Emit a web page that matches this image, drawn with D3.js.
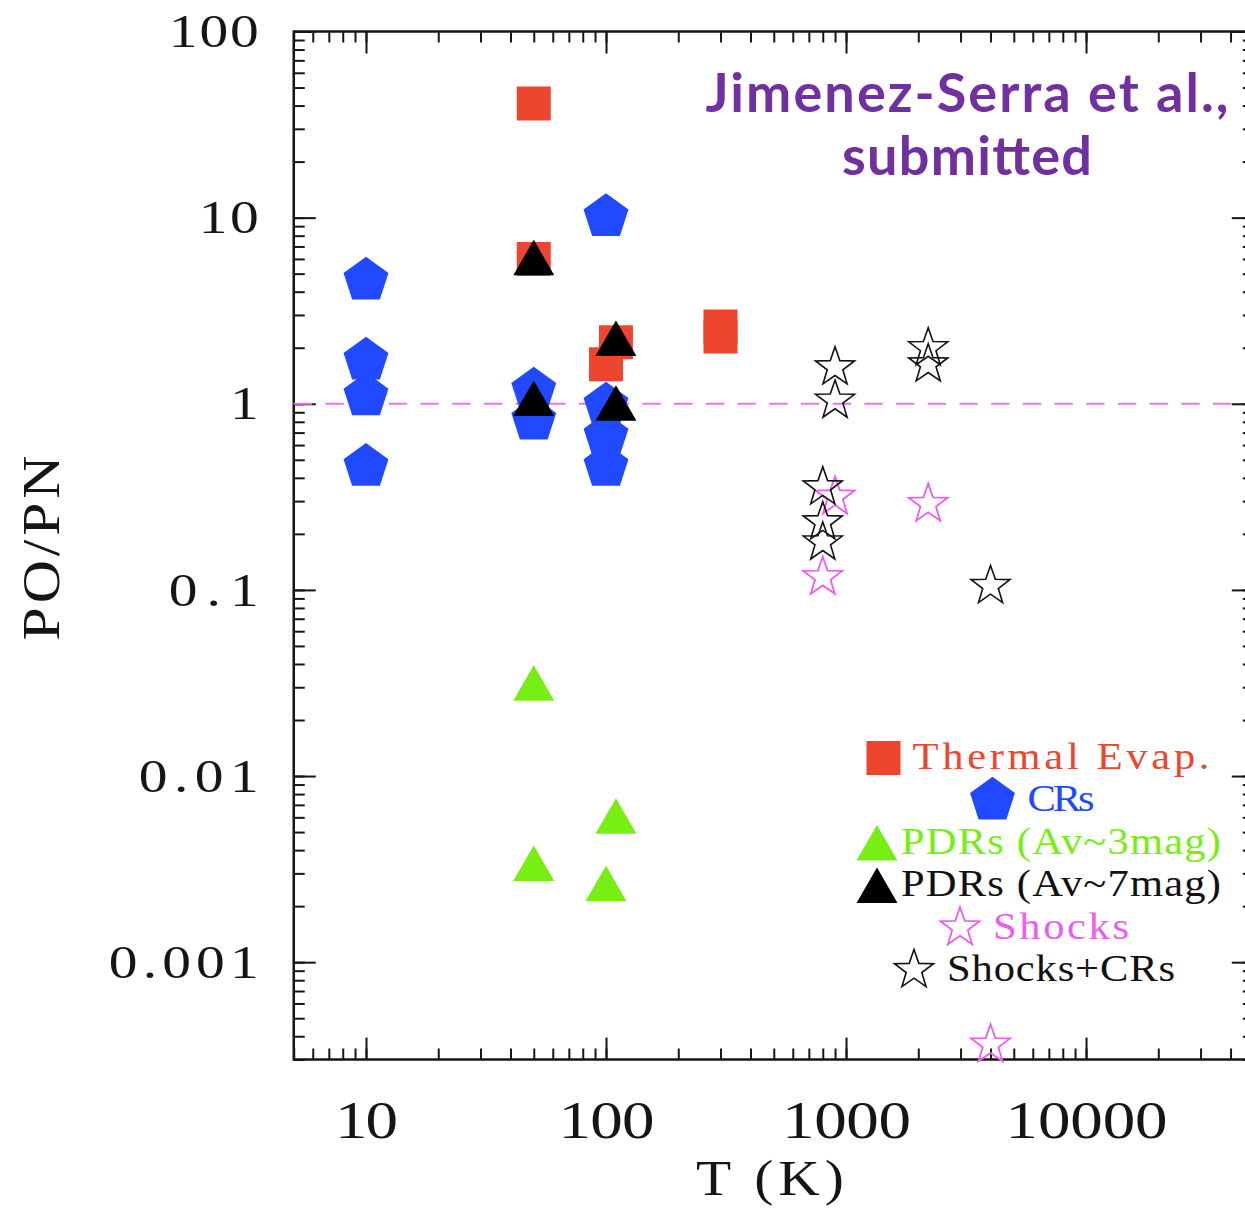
<!DOCTYPE html>
<html><head><meta charset="utf-8">
<script src="https://cdn.jsdelivr.net/npm/d3@7"></script>
<style>body{margin:0;background:#fff} svg{display:block}</style>
</head><body><svg id="c" width="1245" height="1210"></svg>
<script>
// ---------- data ----------
const thermalT = [50, 50, 100, 110, 300, 300];
const thermalR = [41, 6.0, 1.63, 2.14, 2.6, 2.3];
const crT = [10, 10, 10, 10, 50, 50, 100, 100, 100, 100];
const crR = [4.6, 1.71, 1.1, 0.46, 1.18, 0.815, 10.1, 0.98, 0.67, 0.46];
const pdr3T = [50, 110, 50, 100];
const pdr3R = [0.0316, 0.0061, 0.0034, 0.00265];
const pdr7T = [50, 50, 110, 110];
const pdr7R = [6.1, 1.07, 2.25, 1.01];
const shockT = [4000, 800, 900, 2200];
const shockR = [0.00036, 0.117, 0.316, 0.289];
const shockCrT = [900, 900, 800, 800, 800, 2200, 2200, 4000];
const shockCrR = [1.57, 1.04, 0.356, 0.231, 0.18, 1.99, 1.63, 0.105];
const xTickLabels = ["10", "100", "1000", "10000"];
const yTickLabels = ["0.001", "0.01", "0.1", "1", "10", "100"];
const legendLabels = ["Thermal Evap.", "CRs", "PDRs (Av~3mag)", "PDRs (Av~7mag)", "Shocks", "Shocks+CRs"];
const xTitle = "T (K)";
const yTitle = "PO/PN";
const noteLines = ["Jimenez-Serra et al.,", "submitted"];

// ---------- setup ----------
const svg = d3.select("#c");
const M = {left: 293.75, right: 1253.8, top: 31.5, bottom: 1059.5};
const x = d3.scaleLog().domain([5, 5e4]).range([M.left, M.right]);
const y = d3.scaleLog().domain([3e-4, 100]).range([M.bottom, M.top]);
const SERIF = "'Liberation Serif', 'DejaVu Serif', serif";
const INK = "#151515";
// widen glyphs horizontally (sx) and spread them to the plot's monospaced pitch
const fit = (sel, pitch, trim, sx) => sel.each(function () {
  const t = d3.select(this), n = this.textContent.length;
  const x0 = +(t.attr("x") || 0);
  t.attr("x", x0 / sx).attr("transform", (t.attr("transform") || "") + ` scale(${sx},1)`);
  if (n > 1) t.attr("textLength", (pitch * n - trim) / sx).attr("lengthAdjust", "spacing");
});

// ---------- shapes ----------
const sq = s => { const h = s / 2; return `M${-h},${-h}h${s}v${s}h${-s}Z`; };
const poly = pts => "M" + pts.map(p => p.join(",")).join("L") + "Z";
const pent = R => poly(d3.range(5).map(k => { const a = (-90 + 72 * k) * Math.PI / 180; return [R * Math.cos(a), R * Math.sin(a)]; }));
const tri = s => { const h = s * Math.sqrt(3) / 2; return poly([[0, -h / 2], [s / 2, h / 2], [-s / 2, h / 2]]); };
const star = (R, r) => poly(d3.range(10).map(k => { const a = (-90 + 36 * k) * Math.PI / 180, rr = k % 2 ? r : R; return [rr * Math.cos(a), rr * Math.sin(a)]; }));

const styles = {
  thermal: {d: sq(34), fill: "#EE462E", stroke: "none", sw: 0},
  cr: {d: pent(23.6), fill: "#2149FF", stroke: "none", sw: 0},
  pdr3: {d: tri(41), fill: "#77EE14", stroke: "none", sw: 0},
  pdr7: {d: tri(41), fill: "#000", stroke: "none", sw: 0},
  shock: {d: star(20.5, 8.2), fill: "none", stroke: "#EE5CEE", sw: 1.8},
  shockCr: {d: star(20.5, 8.2), fill: "none", stroke: "#111", sw: 1.6}
};

// ---------- frame & axes ----------
const minorX = x.ticks(), majorX = xTickLabels.map(Number);
const minorY = y.ticks(), majorY = yTickLabels.map(Number);

function ax(gen, scale, vals, size, transform, fmt, pad) {
  const a = gen(scale).tickValues(vals).tickSizeInner(-size).tickSizeOuter(0)
    .tickFormat(fmt || (() => "")).tickPadding(pad || 0);
  const g = svg.append("g").attr("transform", transform).call(a);
  g.select(".domain").remove();
  g.selectAll(".tick line").attr("stroke", INK).attr("stroke-width", 2);
  return g;
}
ax(d3.axisBottom, x, minorX, 11, `translate(0,${M.bottom})`);
ax(d3.axisTop, x, minorX, 11, `translate(0,${M.top})`);
ax(d3.axisTop, x, majorX, 22, `translate(0,${M.top})`);
ax(d3.axisLeft, y, minorY, 11, `translate(${M.left},0)`);
ax(d3.axisRight, y, minorY, 11, `translate(${M.right},0)`);
ax(d3.axisRight, y, majorY, 22, `translate(${M.right},0)`);

const gx = ax(d3.axisBottom, x, majorX, 22, `translate(0,${M.bottom})`, (d, i) => xTickLabels[i], 42);
gx.selectAll("text").attr("font-family", SERIF).attr("font-size", 52).attr("fill", INK);
fit(gx.selectAll("text"), 33, 3, 1.25);
const gy = ax(d3.axisLeft, y, majorY, 22, `translate(${M.left},0)`, (d, i) => yTickLabels[i], 35);
gy.selectAll("text").attr("font-family", SERIF).attr("font-size", 46).attr("fill", INK).attr("dy", "0.33em");
fit(gy.selectAll("text"), 30, 0, 1.25);

svg.append("rect").attr("x", M.left).attr("y", M.top)
  .attr("width", M.right - M.left).attr("height", M.bottom - M.top)
  .attr("fill", "none").attr("stroke", INK).attr("stroke-width", 2.5);

// axis titles
const tx = svg.append("text").attr("x", 770).attr("y", 1195)
  .attr("text-anchor", "middle").attr("font-family", SERIF).attr("font-size", 50).attr("fill", INK)
  .text(xTitle);
fit(tx, 29.6, 0, 1.15);
const ty = svg.append("text").attr("transform", `translate(59,548) rotate(-90)`)
  .attr("text-anchor", "middle").attr("font-family", SERIF).attr("font-size", 52).attr("fill", INK)
  .text(yTitle);
fit(ty, 37, 0, 1.15);

// reference line at ratio 1
svg.append("line").attr("x1", M.left).attr("x2", M.right).attr("y1", y(1)).attr("y2", y(1))
  .attr("stroke", "#F070F0").attr("stroke-width", 2).attr("stroke-dasharray", "18.3,13.4");

// ---------- points ----------
function plot(T, R, st) {
  svg.append("g").selectAll("path").data(T.map((t, i) => [t, R[i]])).join("path")
    .attr("d", st.d).attr("transform", d => `translate(${x(d[0])},${y(d[1])})`)
    .attr("fill", st.fill).attr("stroke", st.stroke).attr("stroke-width", st.sw)
    .attr("stroke-linejoin", "miter");
}
plot(thermalT, thermalR, styles.thermal);
plot(crT, crR, styles.cr);
plot(pdr3T, pdr3R, styles.pdr3);
plot(pdr7T, pdr7R, styles.pdr7);
plot(shockT, shockR, styles.shock);
plot(shockCrT, shockCrR, styles.shockCr);

// ---------- legend ----------
const legKeys = ["thermal", "cr", "pdr3", "pdr7", "shock", "shockCr"];
const legText = ["#EE462E", "#2149FF", "#77EE14", "#111", "#EE5CEE", "#111"];
const legGap = {thermal: 31, cr: 37, pdr3: 26, pdr7: 26, shock: 35, shockCr: 35};
const legCx = 1061, legY0 = 769, legDy = 42.4;
legendLabels.forEach((lab, i) => {
  const t = svg.append("text").attr("x", legCx).attr("y", legY0 + i * legDy)
    .attr("text-anchor", "middle").attr("font-family", SERIF).attr("font-size", 37)
    .attr("fill", legText[i]).text(lab);
  fit(t, 23, 2, 1.15);
  const w = 23 * lab.length - 2;
  const st = styles[legKeys[i]];
  svg.append("path").attr("d", st.d)
    .attr("transform", `translate(${legCx - w / 2 - legGap[legKeys[i]] + 2},${legY0 + i * legDy - 11})`)
    .attr("fill", st.fill).attr("stroke", st.stroke).attr("stroke-width", st.sw);
});

// ---------- annotation ----------
const noteLen = [523, 250];
noteLines.forEach((s, i) => {
  svg.append("text").attr("x", 967).attr("y", 112 + i * 63).attr("text-anchor", "middle")
    .attr("font-family", "Lato, 'Open Sans', sans-serif").attr("font-weight", 700)
    .attr("font-size", 54).attr("fill", "#7030A0")
    .attr("textLength", noteLen[i]).attr("lengthAdjust", "spacing").text(s);
});
</script></body></html>
